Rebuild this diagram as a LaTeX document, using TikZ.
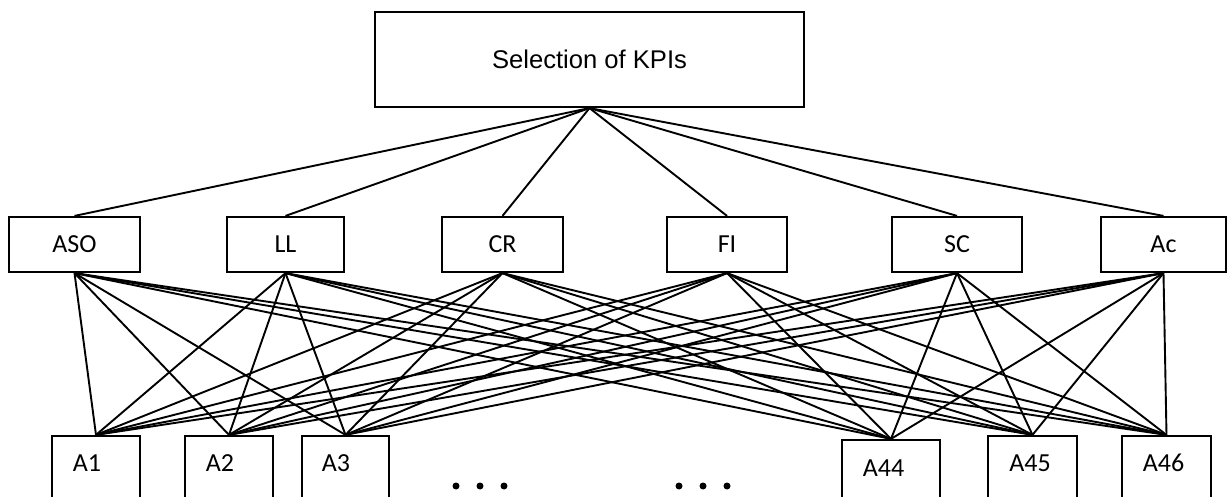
\documentclass[tikz,border=0pt]{standalone}
\usepackage{fontspec}
\setmainfont{Carlito}
\newfontfamily\arialf{Liberation Sans}
\begin{document}
\begin{tikzpicture}[x=0.5pt,y=-0.5pt,
  box/.style={draw, line width=1.1pt, inner sep=0pt, font=\fontsize{13}{15}\selectfont},
  conn/.style={line width=0.95pt},
  lbl/.style={inner sep=0pt, font=\fontsize{13}{15}\selectfont}]
\useasboundingbox (0,0) rectangle (1227,497);
\clip (0,0) rectangle (1227,497);
% top
\node[box, minimum width=214.5pt, minimum height=47.5pt, font=\arialf\fontsize{12.8}{15}\selectfont] (top) at (589.5,59.5) {Selection of KPIs};
% middle
\node[box, minimum width=65.5pt, minimum height=27.5pt] (aso) at (74.5,244.5) {ASO};
\node[box, minimum width=58.5pt, minimum height=27.5pt] (ll) at (285.5,244.5) {LL};
\node[box, minimum width=60.5pt, minimum height=27.5pt] (cr) at (502.5,244.5) {CR};
\node[box, minimum width=60pt, minimum height=27.5pt] (fi) at (727,244.5) {FI};
\node[box, minimum width=65pt, minimum height=27.5pt] (sc) at (957,244.5) {SC};
\node[box, minimum width=62.5pt, minimum height=27.5pt] (ac) at (1163.5,244.5) {Ac};
% bottom
\node[box, minimum width=44pt, minimum height=42pt] (a1) at (96,478) {};
\node[box, minimum width=44pt, minimum height=42pt] (a2) at (229,478) {};
\node[box, minimum width=43.5pt, minimum height=42pt] (a3) at (345.5,478) {};
\node[box, minimum width=49pt, minimum height=40pt] (a44) at (891,480) {};
\node[box, minimum width=44.5pt, minimum height=42pt] (a45) at (1032.5,478) {};
\node[box, minimum width=44.5pt, minimum height=42pt] (a46) at (1166.5,478) {};
\node[lbl] (t1) at (87,463.5) {A1};
\node[lbl] (t2) at (220,463.5) {A2};
\node[lbl] (t3) at (336,463.5) {A3};
\node[lbl] (t44) at (883.5,468) {A44};
\node[lbl] (t45) at (1030,463) {A45};
\node[lbl] (t46) at (1163.5,463) {A46};
% connectors
\foreach \m in {aso,ll,cr,fi,sc,ac} {
  \draw[conn] (top.south) -- (\m.north);
  \foreach \b in {a1,a2,a3,a44,a45,a46}
    \draw[conn] (\m.south) -- (\b.north);
}
% dots
\foreach \x in {456,480,504,679,703,727}
  \fill (\x,486) circle (1.75pt);
\end{tikzpicture}
\end{document}
